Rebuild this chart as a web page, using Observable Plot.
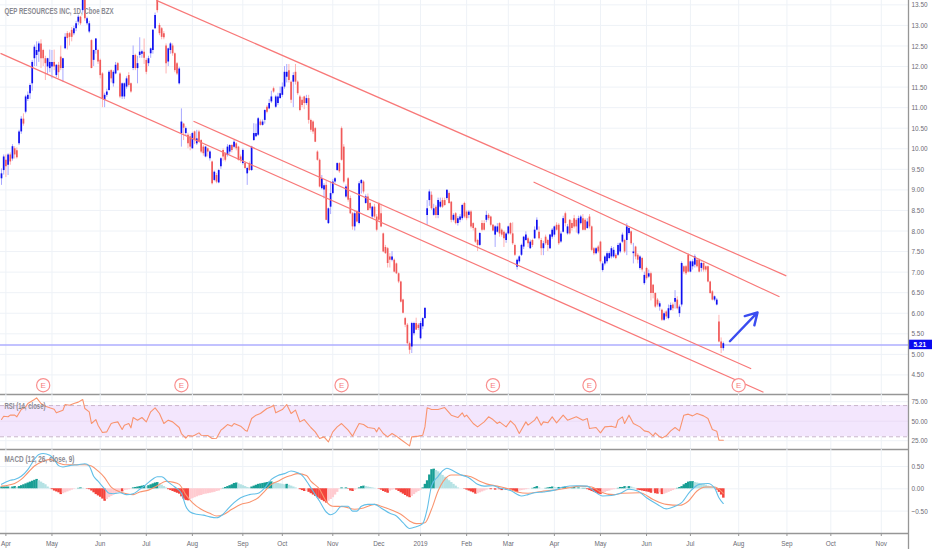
<!DOCTYPE html>
<html><head><meta charset="utf-8">
<script src="https://cdn.jsdelivr.net/npm/d3@7"></script>
<script src="https://cdn.jsdelivr.net/npm/@observablehq/plot@0.6"></script>
<style>
html,body{margin:0;padding:0;background:#fff;overflow:hidden}
#chart svg{display:block;overflow:visible;background:transparent}
</style></head><body><div id="chart"></div>
<script>
const titleMain="QEP RESOURCES INC, 1D, Cboe BZX", titleRsi="RSI (14, close)", titleMacd="MACD (12, 26, close, 9)";
const opens=[
9.27,9.47,9.72,9.60,9.85,9.75,10.00,9.95,10.12,10.41,
10.72,10.89,11.20,11.34,11.58,12.19,12.27,12.35,12.55,12.39,
12.19,11.99,11.95,11.99,12.10,11.78,12.03,12.23,11.95,12.43,
12.80,12.80,12.88,12.80,12.92,13.08,13.20,13.36,13.61,13.04,
12.84,12.63,12.15,12.39,12.39,12.15,11.82,11.18,11.30,11.42,
11.90,11.58,11.82,12.07,11.82,11.26,11.26,11.50,11.78,11.58,
11.95,12.27,11.95,12.27,12.30,12.35,12.15,12.07,12.31,12.39,
12.92,13.61,13.00,12.92,12.80,12.50,12.11,12.39,12.50,12.31,
12.07,11.58,10.37,10.60,10.37,10.33,10.29,10.00,10.41,10.12,
10.41,10.20,10.04,9.80,10.00,9.76,9.68,9.23,9.35,9.17,
9.56,9.96,9.88,9.84,9.92,10.08,10.04,10.12,10.04,9.80,
9.64,9.64,9.39,9.64,9.47,10.20,10.29,10.33,10.65,10.57,
10.69,11.01,10.97,11.14,11.46,11.01,11.10,11.22,11.30,11.50,
11.74,11.90,11.62,11.62,11.86,11.62,11.26,11.18,11.26,11.10,
11.22,10.69,10.65,10.49,9.92,9.72,9.03,9.00,9.11,8.18,
8.58,8.91,9.19,9.47,9.64,10.49,10.04,8.83,9.27,8.79,
8.42,8.10,8.46,8.18,9.15,9.19,8.67,8.83,8.67,8.34,
8.58,8.34,8.67,8.42,7.93,7.60,7.57,7.37,7.29,7.29,
7.20,6.96,6.76,6.32,5.87,5.71,5.26,5.18,5.50,5.75,
5.71,5.38,5.67,5.87,8.38,8.74,8.87,8.38,8.58,8.38,
8.58,8.74,8.74,8.79,8.91,8.70,8.26,8.42,8.18,8.26,
8.30,8.67,8.46,8.38,8.46,8.18,8.06,7.77,7.65,8.18,
8.18,8.26,8.38,8.34,8.14,7.90,7.97,8.18,8.02,7.97,
7.77,7.93,8.18,7.93,7.65,7.12,7.25,7.41,7.61,7.77,
7.81,7.57,7.77,7.81,8.02,7.97,7.77,7.57,7.85,7.77,
7.57,7.85,7.90,8.14,8.14,7.73,7.97,8.42,7.93,8.26,
8.18,8.30,8.26,7.93,8.18,8.30,8.26,8.06,8.34,8.10,
7.57,7.45,7.61,7.73,7.04,7.20,7.25,7.33,7.37,7.37,
7.41,7.41,7.49,7.73,7.77,7.77,7.94,7.98,7.45,7.61,
7.41,7.09,7.33,6.72,7.09,6.88,6.96,6.68,6.48,6.32,
6.15,6.07,5.83,6.03,5.87,6.07,6.20,6.27,6.32,5.99,
6.20,7.13,7.13,7.41,7.00,7.13,7.17,7.29,7.29,7.09,
7.21,7.13,7.13,6.76,6.52,6.32,6.20,5.79,5.30,5.14];
const closes=[
9.39,9.80,9.56,9.85,9.68,10.05,9.85,9.78,10.41,10.72,
10.60,11.26,11.30,11.54,12.10,12.47,12.39,12.55,12.19,12.19,
12.07,12.19,12.10,12.10,11.99,12.03,11.85,11.95,12.19,12.71,
12.68,12.71,12.71,12.92,13.04,13.20,13.04,13.61,13.16,13.16,
13.04,11.95,12.39,12.67,12.11,11.78,11.22,11.30,11.38,11.86,
11.70,11.86,12.03,11.90,11.26,11.58,11.58,11.70,11.54,11.38,
12.27,11.95,12.07,12.35,12.36,12.20,11.86,12.19,12.43,12.88,
13.24,13.36,12.80,12.71,12.70,12.07,12.43,12.55,12.31,11.90,
11.82,11.94,10.65,10.50,10.49,10.12,10.04,10.37,10.20,10.24,
10.17,9.92,9.88,10.04,9.92,9.92,9.15,9.43,9.19,9.47,
9.76,9.80,9.72,10.04,10.08,9.96,10.16,10.00,9.72,9.72,
9.96,9.52,9.52,9.47,10.04,10.37,10.37,10.73,10.57,10.65,
10.93,10.89,11.10,11.26,11.38,11.26,11.26,11.34,11.50,11.86,
11.86,11.66,11.18,11.78,11.62,11.34,10.93,11.05,11.10,11.22,
10.69,10.45,10.41,10.16,9.72,9.07,9.27,9.10,8.26,8.54,
8.91,9.19,9.27,9.64,9.44,9.72,9.19,9.07,8.75,8.42,
8.10,8.42,8.22,9.15,9.23,8.95,8.83,8.50,8.54,8.58,
8.34,8.02,8.26,8.10,7.49,7.45,7.21,7.29,7.37,7.00,
6.96,6.76,6.27,6.00,5.71,5.26,5.10,5.75,5.75,5.59,
5.63,5.75,5.87,6.12,8.54,8.95,8.54,8.54,8.38,8.74,
8.70,8.58,8.62,8.99,8.67,8.26,8.38,8.18,8.30,8.34,
8.62,8.34,8.30,8.46,8.10,8.06,7.73,7.65,7.94,8.02,
8.02,8.38,8.30,8.14,8.00,8.10,8.10,7.93,7.90,7.81,
7.93,8.10,7.93,7.69,7.41,7.29,7.37,7.65,7.85,7.90,
7.69,7.73,7.65,8.02,8.26,7.81,7.57,7.69,7.69,7.65,
7.90,8.02,8.10,8.02,7.69,7.93,8.30,8.18,8.10,7.93,
8.06,8.10,8.10,8.30,8.34,8.02,8.02,8.22,8.10,7.53,
7.45,7.57,7.49,7.25,7.20,7.37,7.45,7.45,7.57,7.53,
7.33,7.65,7.69,7.90,7.49,8.10,8.06,7.69,7.49,7.37,
7.29,7.37,7.05,6.92,6.84,6.96,6.48,6.48,6.15,6.20,
6.23,5.83,5.99,5.91,6.11,6.19,6.11,6.36,6.11,6.15,
7.21,7.00,6.96,7.00,7.25,7.25,7.37,7.13,7.00,7.21,
7.05,7.05,6.76,6.48,6.32,6.40,6.32,5.30,5.14,5.26];
const highs=[
9.51,9.85,9.85,9.88,9.90,10.10,10.05,10.02,10.45,10.78,
10.85,11.30,11.38,11.58,12.15,12.52,12.60,12.60,12.65,12.42,
12.25,12.20,12.40,12.39,12.40,12.05,12.10,12.50,12.20,12.80,
12.85,12.83,12.95,12.98,13.10,13.25,13.22,13.61,13.61,13.20,
13.10,12.65,12.40,12.68,12.42,12.18,11.85,11.35,11.45,11.90,
11.92,11.90,12.10,12.10,11.85,11.60,11.60,11.75,11.85,11.60,
12.50,12.30,12.25,12.70,12.40,12.67,12.20,12.25,12.45,12.90,
13.30,13.61,13.05,12.95,12.85,12.55,12.45,12.58,12.55,12.33,
12.10,11.98,10.97,10.62,10.53,10.38,10.35,10.40,10.43,10.45,
10.45,10.22,10.08,10.06,10.02,9.95,9.70,9.46,9.40,9.50,
9.78,10.00,9.90,10.10,10.10,10.10,10.20,10.15,10.06,9.85,
10.00,9.68,9.55,9.68,10.06,10.61,10.60,10.76,10.70,10.70,
10.95,11.05,11.20,11.40,11.50,11.30,11.35,11.50,11.60,12.00,
12.05,12.05,11.65,11.85,12.05,11.65,11.30,11.25,11.28,11.30,
11.30,10.72,10.68,10.52,9.95,9.75,9.35,9.15,9.20,8.56,
9.20,9.25,9.30,9.66,9.66,10.53,10.10,9.12,9.30,8.85,
8.45,8.50,8.50,9.20,9.25,9.22,8.88,8.90,8.70,8.60,
8.65,8.40,8.70,8.65,7.95,7.65,7.60,7.45,7.50,7.32,
7.22,6.98,6.78,6.34,5.90,5.75,5.30,5.78,5.78,5.88,
5.75,5.80,5.89,6.12,8.74,9.00,8.95,8.65,8.62,8.80,
8.80,8.80,8.80,9.00,8.95,8.72,8.42,8.45,8.35,8.40,
8.65,8.70,8.50,8.50,8.50,8.20,8.08,7.80,7.96,8.25,
8.25,8.48,8.42,8.36,8.16,8.13,8.18,8.20,8.05,8.00,
7.96,8.12,8.20,8.20,7.68,7.32,7.40,7.68,7.87,7.98,
7.85,7.78,7.80,8.10,8.32,8.10,7.82,7.75,7.90,7.80,
7.92,8.06,8.12,8.20,8.18,7.98,8.36,8.46,8.16,8.28,
8.25,8.38,8.30,8.36,8.38,8.40,8.30,8.30,8.40,8.12,
7.60,7.60,7.65,7.75,7.25,7.40,7.50,7.50,7.62,7.60,
7.45,7.70,7.72,7.95,7.80,8.18,8.10,8.00,7.70,7.63,
7.45,7.40,7.36,7.00,7.12,7.05,7.00,6.70,6.50,6.36,
6.28,6.10,6.03,6.06,6.20,6.25,6.25,6.55,6.40,6.20,
7.25,7.15,7.16,7.45,7.27,7.30,7.42,7.30,7.32,7.25,
7.23,7.15,7.15,6.78,6.55,6.42,6.36,5.95,5.40,5.30];
const lows=[
9.11,9.36,9.30,9.35,9.60,9.70,9.75,9.75,10.08,10.35,
10.55,10.85,11.15,11.20,11.40,12.00,12.00,12.10,11.95,12.00,
11.66,11.80,11.85,11.70,11.90,11.73,11.70,11.90,11.62,12.41,
12.40,12.50,12.60,12.75,12.85,13.00,13.00,13.30,13.10,13.00,
12.80,11.95,12.00,12.30,12.05,11.70,11.00,11.00,11.25,11.40,
11.60,11.50,11.80,11.88,11.22,11.20,11.20,11.45,11.50,11.35,
11.90,11.90,11.58,12.20,12.20,12.05,11.80,12.00,12.20,12.30,
12.90,13.30,12.75,12.65,12.65,11.82,12.00,12.30,12.25,11.85,
11.78,11.55,10.04,10.20,10.30,10.00,9.95,9.98,10.10,10.08,
10.15,9.88,9.82,9.78,9.80,9.70,9.12,9.20,9.15,9.15,
9.50,9.70,9.68,9.80,9.85,9.90,10.00,9.95,9.70,9.65,
9.60,9.50,9.11,9.45,9.45,10.18,10.27,10.30,10.55,10.55,
10.60,10.85,10.95,11.10,11.35,10.98,11.05,11.20,11.25,11.45,
11.60,11.60,11.10,11.00,11.55,11.30,10.90,11.00,10.95,11.05,
10.60,10.40,10.35,10.15,9.70,9.05,9.00,8.78,8.25,8.16,
8.40,8.88,9.15,9.45,9.40,9.70,9.15,8.80,8.70,8.40,
8.02,8.00,8.20,8.15,8.90,8.90,8.65,8.48,8.50,8.30,
8.30,7.98,8.24,8.08,7.47,7.43,7.10,7.10,7.25,6.98,
6.94,6.72,6.25,5.98,5.65,5.20,5.00,5.02,5.45,5.58,
5.58,5.35,5.60,5.85,8.14,8.60,8.50,8.36,8.30,8.30,
8.55,8.55,8.60,8.75,8.65,8.20,8.22,8.15,8.12,8.20,
8.25,8.30,8.25,8.30,8.05,8.00,7.70,7.50,7.62,7.98,
8.00,8.20,8.25,8.10,7.98,7.60,7.95,7.85,7.85,7.60,
7.70,7.90,7.90,7.65,7.38,7.05,7.20,7.38,7.55,7.75,
7.60,7.55,7.60,7.80,8.00,7.78,7.40,7.40,7.65,7.50,
7.55,7.80,7.85,8.00,7.65,7.70,7.95,8.10,7.90,7.90,
8.00,8.05,7.95,7.90,8.15,8.00,8.00,8.04,8.05,7.50,
7.40,7.42,7.45,7.20,7.00,7.15,7.20,7.30,7.32,7.33,
7.30,7.38,7.45,7.70,7.45,7.40,7.90,7.65,7.20,7.30,
7.20,7.05,7.00,6.68,6.80,6.85,6.30,6.35,6.12,6.15,
6.05,5.80,5.80,5.85,5.84,6.05,6.05,6.10,6.08,5.90,
6.15,6.95,6.92,6.98,6.98,7.05,7.10,7.10,6.98,7.00,
7.00,7.00,6.74,6.46,6.30,6.28,6.18,5.28,5.02,5.08];
const histogram=[
.04,.04,.04,.04,.02,.04,.05,.03,.05,.07,
.09,.11,.13,.15,.17,.19,.21,.18,.15,.12,
.09,.04,.01,-.02,-.05,-.07,-.09,-.13,-.11,-.09,
-.07,-.05,-.03,-.01,0,.01,.02,.01,0,-.01,
-.02,-.05,-.09,-.13,-.16,-.19,-.23,-.28,-.24,-.2,
-.17,-.14,-.12,-.09,-.06,-.07,-.04,-.03,-.02,-.01,
.02,.03,.04,.05,.06,.07,.05,.07,.09,.11,
.13,.14,.11,.08,.05,.02,-.02,-.04,-.06,-.08,
-.1,-.12,-.18,-.23,-.26,-.27,-.24,-.22,-.2,-.18,
-.16,-.15,-.13,-.12,-.11,-.1,-.09,-.08,-.06,-.05,
-.02,.01,.03,.05,.07,.09,.12,.13,.11,.09,
.07,.05,.03,.02,.04,.06,.08,.1,.11,.12,
.13,.14,.15,.155,.14,.13,.12,.11,.1,.09,
.1,.08,.06,.04,.02,0,-.02,-.04,-.06,-.05,
-.08,-.11,-.14,-.17,-.2,-.23,-.26,-.29,-.32,-.28,
-.24,-.2,-.14,-.08,-.01,.02,.01,.02,-.01,-.05,
-.06,-.03,-.01,.02,.05,.06,.05,.04,.03,.02,
.01,0,-.01,-.03,-.06,-.08,-.1,-.05,-.03,-.02,
-.03,-.06,-.09,-.12,-.15,-.18,-.2,-.17,-.13,-.09,
-.06,-.03,.02,.1,.18,.31,.43,.44,.41,.38,
.34,.3,.26,.22,.18,.14,.1,.06,.02,0,
0,-.01,-.03,-.05,-.07,-.09,-.12,-.11,-.09,-.07,
-.05,-.03,-.01,-.02,-.01,-.03,-.02,-.02,-.04,-.02,
-.03,-.02,-.03,-.04,-.06,-.08,-.05,-.04,-.03,-.02,
-.01,0,.01,.03,.05,.02,0,0,.01,.02,
.03,.04,.03,.02,.03,.02,.03,.04,.03,.02,
.02,.03,.02,.02,.01,.01,.01,-.02,-.04,-.06,
-.08,-.1,-.12,-.13,-.1,-.08,-.06,-.05,-.03,-.02,
-.01,.01,.03,.03,.05,.04,.05,.04,.02,.01,
-.03,-.04,-.05,-.06,-.07,-.08,-.1,-.07,-.11,-.12,
-.09,-.13,-.12,-.1,-.08,-.06,-.04,-.02,.01,.03,
.05,.09,.12,.15,.16,.16,.14,.13,.12,.11,
.1,.08,.06,.05,.04,.03,-.03,-.08,-.14,-.21];
const rsiBars=[0,1,3,4,6,7,9,11,12,15,16,18,20,22,24,25,28,29,31,33,35,37,38,40,41,43,44,46,48,50,51,53,55,56,58,59,60,62,64,66,68,70,72,74,76,78,81,82,84,85,87,88,90,91,94,96,98,100,101,103,105,106,109,111,112,114,116,118,121,123,124,125,128,130,132,134,136,138,
141,143,145,147,149,151,153,155,158,160,161,163,165,167,170,171,172,174,176,178,180,182,186,187,190,192,193,194,196,199,202,205,208,210,211,212,215,217,220,222,224,226,227,230,232,234,236,239,240,243,244,246,247,249,251,253,256,258,260,262,265,267,268,271,273,275,278,280,281,283,284,
286,288,291,293,295,297,298,300,301,303,305,307,309,311,313,315,317,320,322,324,326,327,329];
const rsiValues=[52.1,56.4,55.6,57.7,57.7,55.6,65,68.4,72.7,77.8,79.9,72.7,69.2,67.1,65.4,60.7,64.1,71.4,70.5,72.7,74.4,77.8,66.2,62,47,52.1,44.9,35.5,36.3,47,47.9,49.1,39.3,44.9,47,41.5,54.7,51.3,54.7,49.1,62,67.1,59.8,47,51.3,49.1,41.9,34.2,28.2,31.6,30.8,32,35,32,31.6,27.8,28.2,38.5,40.6,45.7,43.6,47,43.6,38.5,37.2,53.4,57.7,59.8,66.2,68.4,70.5,60.7,64.9,71.4,59.8,64.1,49.1,52.1,
41.9,36.3,27.8,29.9,23.5,36.3,42.7,47,38.5,30.8,36.3,47,45.7,41.9,40.6,36.3,41.9,34.2,29.9,34.2,30.8,26.5,18.4,29.9,30.8,32,42.7,67.1,65,65,67.5,57.7,54.7,60.7,55.6,57.7,47,42.7,49.1,55.6,52.1,47,49.1,42.7,50.4,45,34.2,49.1,44.9,51.3,55.6,44.9,49.1,47.9,55.6,47.9,57.7,51.3,53.4,55.6,51.3,53.4,40.6,41.9,35,42.7,43.6,41.9,51.3,55.6,47,
57.7,47,42.7,37.6,36.3,31.2,35,29.9,28.6,31.2,37.6,41.9,37.6,57.7,59,56.8,59.8,56.8,53.4,39.3,37.2,25.6,25.6];
const macdBars=[0,2,4,6,9,12,15,17,19,22,24,26,28,31,35,38,40,42,44,47,49,51,54,57,60,63,66,69,71,73,76,79,82,84,86,89,92,95,98,101,103,106,109,113,117,120,123,126,129,132,135,137,140,
143,145,148,150,152,155,158,160,162,164,167,170,173,177,180,183,186,189,192,194,196,199,201,203,206,209,213,217,220,224,227,232,237,240,243,247,252,256,262,267,270,274,278,282,
286,290,294,299,303,307,310,314,318,322,325,327,329];
const macdValues=[.1,.15,.19,.21,.28,.43,.66,.77,.79,.75,.66,.52,.49,.52,.54,.56,.51,.28,.17,0,-.1,-.11,-.09,-.13,-.11,-.01,.1,.22,.27,.27,.15,.04,-.1,-.39,-.52,-.57,-.59,-.63,-.65,-.57,-.46,-.31,-.2,-.13,-.1,.02,.21,.3,.34,.4,.36,.3,.1,
-.13,-.28,-.52,-.58,-.54,-.39,-.39,-.5,-.5,-.39,-.35,-.35,-.43,-.55,-.61,-.76,-.89,-.85,-.78,-.46,.06,.28,.4,.46,.4,.32,.25,.1,.06,.07,.02,-.04,-.16,-.13,-.09,-.07,-.03,.04,.07,.06,-.05,-.16,-.15,-.1,
-.01,-.05,-.2,-.35,-.45,-.39,-.31,-.05,.1,.12,.02,-.2,-.33];
const signalBars=[0,3,6,9,12,15,19,22,26,29,33,38,41,44,47,50,53,57,60,63,67,71,75,78,81,84,87,91,95,98,101,105,109,113,117,120,123,126,129,132,135,139,141,
145,148,151,156,161,165,170,173,178,182,186,189,193,196,199,202,205,209,214,218,221,226,231,235,240,246,252,258,264,269,273,279,283,
291,297,303,309,313,317,321,325,328,329];
const signalValues=[.06,.08,.12,.21,.36,.51,.62,.66,.58,.54,.54,.54,.51,.4,.25,.04,-.05,-.11,-.13,-.07,-.03,.07,.17,.15,.1,-.13,-.31,-.46,-.55,-.61,-.58,-.46,-.35,-.3,-.2,-.05,.1,.17,.25,.3,.34,.3,.17,
-.01,-.28,-.39,-.4,-.46,-.43,-.35,-.39,-.48,-.57,-.72,-.78,-.76,-.46,-.05,.21,.31,.31,.27,.17,.11,.06,0,-.07,-.1,-.06,-.03,.02,.06,.04,-.07,-.13,-.1,
-.09,-.24,-.35,-.37,-.28,-.05,.04,.04,-.05,-.1];
const monthBars=[2,23,45,66,87,110,128,151,172,191,212,231,252,273,294,314,336,358,378,401];
const monthLabels=["Apr","May","Jun","Jul","Aug","Sep","Oct","Nov","Dec","2019","Feb","Mar","Apr","May","Jun","Jul","Aug","Sep","Oct","Nov"];
const earningsBars=[19,82,155,224,268,336];
const earningsPrice=4.25;
const channelStartBar=[-0.456,70.6,87.5,242.5], channelStartPrice=[12.32,13.61,10.67,9.19];
const channelEndBar=[347.3,357.7,341.7,354.6], channelEndPrice=[4.08,6.91,4.65,6.40];
const arrowBars=[332,344.6], arrowPrices=[5.32,6.02];
const lastPrice=5.21;
const priceTicks=[4.5,5,5.5,6,6.5,7,7.5,8,8.5,9,9.5,10,10.5,11,11.5,12,12.5,13,13.5];
const rsiTicks=[75,50,25], rsiBands=[30,70];
const macdTicks=[.5,0,-.5];

const n=Math.min(opens.length,closes.length,highs.length,lows.length);
const barIdx=d3.range(n);
const xDomain=[-0.456,413.4];
const FONT="'Liberation Sans',Arial,sans-serif", TXT="#6b6b73", GRID="#eef2f7", SEP="#969696";
const fmt=d=>d.toFixed(2).replace("-","\u2212");
const grid=(ticks)=>[
  Plot.ruleX(monthBars,{stroke:GRID,strokeWidth:1}),
  Plot.ruleY(ticks,{stroke:GRID,strokeWidth:1})
];
const base={width:932,marginLeft:0,marginRight:24,marginTop:0,x:{domain:xDomain,axis:null},style:{fontFamily:FONT,overflow:"visible",background:"transparent"}};
const label=(t,dy)=>Plot.text([t],{frameAnchor:"top-left",dx:4,dy,fill:"#8a8a92",fontSize:9,fontWeight:600,textAnchor:"start"});
const yAxis=(ticks)=>Plot.axisY(ticks,{anchor:"right",tickSize:0,tickPadding:3,tickFormat:fmt,fontSize:8,fill:TXT,label:null,color:TXT});

const main=Plot.plot({...base,height:394,marginBottom:0,y:{domain:[4.024,13.606],axis:null},marks:[
  ...grid(priceTicks),
  Plot.ruleY([lastPrice],{stroke:"#aeaeff",strokeWidth:1.4,dy:-.8}),
  Plot.ruleX(barIdx,{x:i=>i,y1:i=>lows[i],y2:i=>highs[i],stroke:i=>closes[i]>=opens[i]?"#a9a9ff":"#ffb3b3",strokeWidth:1}),
  Plot.ruleX(barIdx,{x:i=>i,y1:i=>opens[i],y2:i=>closes[i],stroke:i=>closes[i]>=opens[i]?"#0f0ff0":"#f05a5a",strokeWidth:1.7}),
  Plot.link(d3.range(channelStartBar.length),{x1:i=>channelStartBar[i],y1:i=>channelStartPrice[i],x2:i=>channelEndBar[i],y2:i=>channelEndPrice[i],stroke:"#f87878",strokeWidth:1.2}),
  Plot.arrow([0],{x1:()=>arrowBars[0],y1:()=>arrowPrices[0],x2:()=>arrowBars[1],y2:()=>arrowPrices[1],stroke:"#3a4cf0",strokeWidth:2.4,bend:0,headLength:11}),
  Plot.dot(earningsBars,{x:d=>d,y:()=>earningsPrice,r:6.6,stroke:"#f98f8f",fill:"#fff",strokeWidth:1.2}),
  Plot.text(earningsBars,{x:d=>d,y:()=>earningsPrice,text:()=>"E",fill:"#f58080",fontSize:8}),
  yAxis(priceTicks),
  Plot.rect([lastPrice],{x1:xDomain[1],x2:xDomain[1]+11,y1:d=>d-.115,y2:d=>d+.115,fill:"#0a0af0",dy:-.8}),
  Plot.text([lastPrice],{x:xDomain[1],y:d=>d,dx:5,dy:-.8,text:d=>d.toFixed(2),fill:"#fff",fontWeight:700,fontSize:8,textAnchor:"start"}),
  Plot.ruleY([4.024],{stroke:SEP,strokeWidth:1.3}),
  Plot.ruleX([xDomain[1]],{stroke:SEP,strokeWidth:1.3}),
  label(titleMain,7)
]});

const rsi=Plot.plot({...base,height:55,marginBottom:0,y:{domain:[13.7,84.2],axis:null},marks:[
  ...grid(rsiTicks),
  Plot.rect([0],{x1:xDomain[0],x2:xDomain[1],y1:rsiBands[0],y2:rsiBands[1],fill:"#f3e6fd"}),
  Plot.ruleY(rsiTicks.slice(1,2),{stroke:"#ebdcf5",strokeWidth:1}),
  Plot.ruleY(rsiBands,{stroke:"#c9b6cc",strokeWidth:1,strokeDasharray:"4,3"}),
  Plot.line(rsiBars,{x:d=>d,y:(d,i)=>rsiValues[i],stroke:"#f9946f",strokeWidth:1.1,curve:"linear"}),
  yAxis(rsiTicks),
  Plot.ruleY([13.7],{stroke:SEP,strokeWidth:1.3}),
  Plot.ruleX([xDomain[1]],{stroke:SEP,strokeWidth:1.3}),
  label(titleRsi,8)
]});

const histColor=i=>{const v=histogram[i],p=i?histogram[i-1]:0;
  return v>=0?(v>=p?"#179e94":"#b5e2e4"):(v<=p?"#f4433c":"#ffcbd0");};
const macd=Plot.plot({...base,height:100,marginBottom:16,y:{domain:[-1.002,.881],axis:null},marks:[
  ...grid(macdTicks),
  Plot.ruleX(d3.range(histogram.length),{x:i=>i,y1:()=>0,y2:i=>histogram[i],stroke:histColor,strokeWidth:2.5}),
  Plot.line(signalBars,{x:d=>d,y:(d,i)=>signalValues[i],stroke:"#f9946f",strokeWidth:1.1,curve:"monotone-x"}),
  Plot.line(macdBars,{x:d=>d,y:(d,i)=>macdValues[i],stroke:"#62bfe8",strokeWidth:1.1,curve:"monotone-x"}),
  yAxis(macdTicks),
  Plot.axisX(monthBars,{anchor:"bottom",tickSize:3,tickPadding:4,tickFormat:(d)=>monthLabels[monthBars.indexOf(d)],fontSize:8,color:TXT,label:null,stroke:"#969696"}),
  Plot.ruleY([-1.002],{stroke:SEP,strokeWidth:1.3}),
  Plot.ruleX([xDomain[1]],{y1:.881,y2:-1.36,stroke:SEP,strokeWidth:1.3}),
  label(titleMacd,6)
]});

const root=document.getElementById("chart");
[main,rsi,macd].forEach(p=>root.append(p));
const panelTitleScale=new Map([[titleMain,109],[titleRsi,41],[titleMacd,70]]);
root.querySelectorAll("text").forEach(t=>{
  const len=t.getComputedTextLength();
  const fixed=panelTitleScale.get(t.textContent);
  const target=fixed||(len>8?len*.8:0);
  if(target){t.setAttribute("textLength",target.toFixed(1));t.setAttribute("lengthAdjust","spacingAndGlyphs");}
});
</script></body></html>
